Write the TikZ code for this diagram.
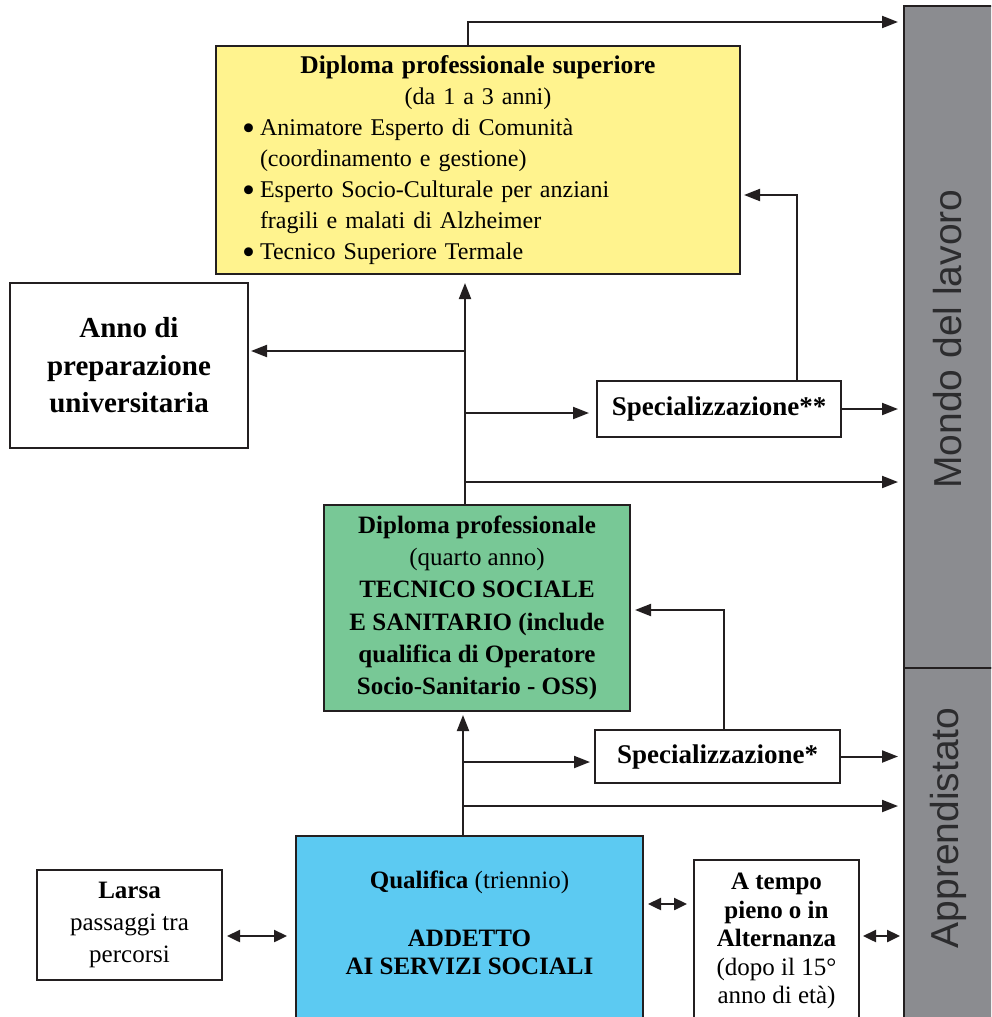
\documentclass[tikz,border=0pt]{standalone}
\usepackage{fontspec}
\setmainfont{Liberation Serif}
\setsansfont{Liberation Sans}
\usetikzlibrary{arrows.meta}

\definecolor{ink}{HTML}{231F20}
\definecolor{yellowbox}{HTML}{FFF38E}
\definecolor{greenbox}{HTML}{78C896}
\definecolor{bluebox}{HTML}{5CCAF2}
\definecolor{barfill}{HTML}{8B8C90}
\definecolor{bartextc}{HTML}{2C2C2E}

% bullet item: text indented, bullet hung in the margin
\newcommand\ylistitem[1]{\par{\leftskip=18pt\noindent\llap{\makebox[18pt][l]{\raisebox{-5pt}{\fontsize{37}{37}\selectfont\textbullet}}}#1\par}}

\begin{document}
\begin{tikzpicture}[x=1pt,y=-1pt,
  box/.style={draw=ink, line width=2pt, inner sep=0pt, align=center, fill=white},
  bar/.style={draw=ink, line width=2pt, fill=barfill, inner sep=0pt},
  bartext/.style={font=\sffamily\fontsize{39}{40}\selectfont, text=bartextc, rotate=90, inner sep=0pt},
  txt/.style={inner sep=0pt, align=center},
  arr/.style={draw=ink, line width=2pt, -{Triangle[length=16pt,width=12pt]}},
  dbl/.style={draw=ink, line width=2.4pt, {Triangle[length=13pt,width=12pt]}-{Triangle[length=13pt,width=12pt]}}
]
\useasboundingbox (0,0) rectangle (991,1017);
\clip (0,0) rectangle (991,1017);

% side bars
\node[bar, anchor=north west, minimum width=110pt, minimum height=662pt] (mondo) at (903,5) {};
\node[bar, anchor=north west, minimum width=110pt, minimum height=400pt] (appr) at (903,667) {};
\node[bartext] (mondotxt) at (948,339) {Mondo del lavoro};
\node[bartext] (apprtxt) at (948,828) {Apprendistato};

% upper diploma
\node[box, fill=yellowbox, minimum width=524pt, minimum height=228pt, text width=472pt,
      align=left, font=\fontsize{24}{31}\selectfont] (dps) at (478,160) {%
  {\centering{\fontsize{25.5}{31}\selectfont\textbf{Diploma professionale superiore}}\\(da 1 a 3 anni)\par}
  \ylistitem{Animatore Esperto di Comunità\\(coordinamento e gestione)}
  \ylistitem{Esperto Socio-Culturale per anziani\\fragili e malati di Alzheimer}
  \ylistitem{Tecnico Superiore Termale}};

% university preparation
\node[box, minimum width=238pt, minimum height=165pt,
      font=\bfseries\fontsize{29}{37.5}\selectfont] (anno) at (129,365.5)
  {Anno di\\preparazione\\universitaria};

% specializations
\node[box, minimum width=244pt, minimum height=56pt,
      font=\bfseries\fontsize{27}{30}\selectfont] (spec2) at (719,409) {Specializzazione**};
\node[box, minimum width=245pt, minimum height=53pt,
      font=\bfseries\fontsize{27}{30}\selectfont] (spec1) at (717.5,756.5) {Specializzazione*};

% fourth year diploma
\node[box, fill=greenbox, minimum width=306pt, minimum height=206pt,
      font=\fontsize{25}{32.3}\selectfont] (dp) at (477,608)
  {\textbf{Diploma professionale}\\(quarto anno)\\\textbf{TECNICO SOCIALE}\\
   \textbf{E SANITARIO (include}\\\textbf{qualifica di Operatore}\\
   \textbf{Socio-Sanitario - OSS)}};

% three-year qualification
\node[box, fill=bluebox, minimum width=347pt, minimum height=210pt] (qual) at (469.5,941) {};
\node[txt, font=\fontsize{25}{28}\selectfont] (qualtxt) at (469.5,923)
  {\textbf{Qualifica} (triennio)\\[30pt]\textbf{ADDETTO}\\\textbf{AI SERVIZI SOCIALI}};

% side boxes
\node[box, minimum width=185pt, minimum height=110pt,
      font=\fontsize{25}{32}\selectfont] (larsa) at (129.5,925)
  {\textbf{Larsa}\\passaggi tra\\percorsi};
\node[box, minimum width=165pt, minimum height=162pt,
      font=\fontsize{25}{28.5}\selectfont] (atempo) at (776.5,941)
  {\textbf{A tempo}\\\textbf{pieno o in}\\\textbf{Alternanza}\\(dopo il 15°\\anno di età)};

% branch points
\coordinate (trunkU) at (465,0);
\coordinate (trunkL) at (463,0);
\coordinate (top) at (468,22);
\coordinate (b1) at (465,351);
\coordinate (b2) at (465,413);
\coordinate (b3) at (465,482);
\coordinate (r2) at (797,195);
\coordinate (c1) at (463,762);
\coordinate (c2) at (463,806);
\coordinate (r1) at (724,610);
\coordinate (d1) at (0,936);
\coordinate (d2) at (0,904);

% upper connectors
\draw[arr, shorten >=5pt] (dps.north -| top) |- (top -| mondo.west);
\draw[arr, shorten >=8pt] (dp.north -| trunkU) -- (dps.south -| trunkU);
\draw[arr, shorten >=2pt] (b1) -- (b1 -| anno.east);
\draw[arr, shorten >=7pt] (b2) -- (b2 -| spec2.west);
\draw[arr, shorten >=5pt] (spec2.east) -- (spec2.east -| mondo.west);
\draw[arr, shorten >=3pt] (spec2.north -| r2) |- (r2 -| dps.east);
\draw[arr, shorten >=5pt] (b3) -- (b3 -| mondo.west);

% lower connectors
\draw[arr, shorten >=3pt] (qual.north -| trunkL) -- (dp.south -| trunkL);
\draw[arr, shorten >=4pt] (c1) -- (c1 -| spec1.west);
\draw[arr, shorten >=5pt] (spec1.east) -- (spec1.east -| appr.west);
\draw[arr, shorten >=4pt] (spec1.north -| r1) |- (r1 -| dp.east);
\draw[arr, shorten >=5pt] (c2) -- (c2 -| appr.west);

% two-way links
\draw[dbl, shorten <=4pt, shorten >=8pt] (larsa.east |- d1) -- (qual.west |- d1);
\draw[dbl, shorten <=4pt, shorten >=6pt] (qual.east |- d2) -- (atempo.west |- d2);
\draw[dbl, shorten <=3pt, shorten >=3pt] (atempo.east |- d1) -- (appr.west |- d1);
\end{tikzpicture}
\end{document}
